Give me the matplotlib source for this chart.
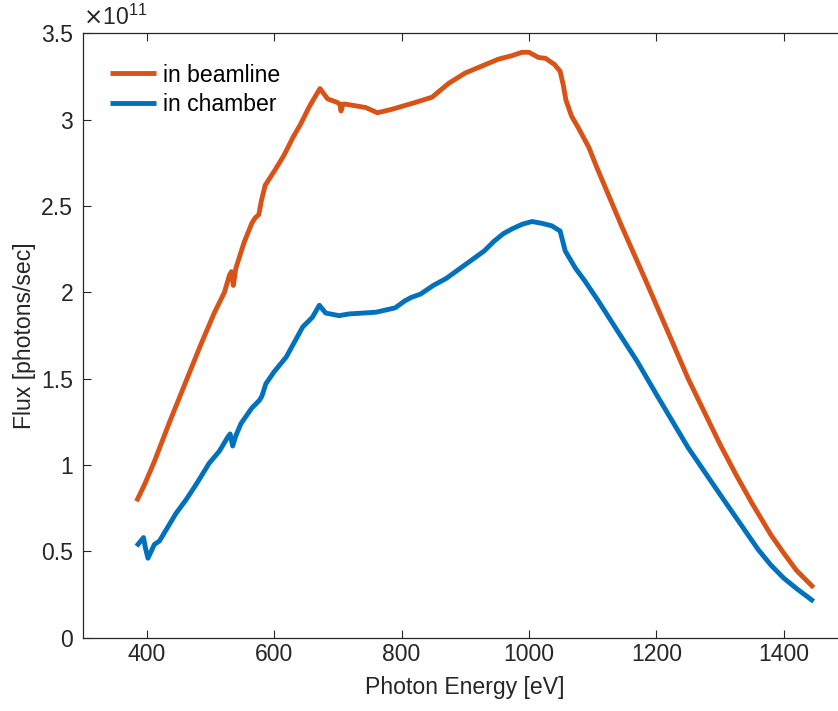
import matplotlib
matplotlib.use("Agg")
import matplotlib.pyplot as plt

plt.rcParams['font.family'] = ['Liberation Sans', 'DejaVu Sans']

# Photon energy [eV] and flux [x1e11 photons/sec]
beam_energy = [384, 397, 412, 436, 459, 483, 506, 522, 530, 533, 536, 540, 553, 565,
               570, 576, 580, 586, 600, 615, 630, 641, 656, 672, 684, 699, 703, 705,
               708, 712, 744, 762, 785, 822, 848, 874, 900, 926, 952, 973, 989, 1000,
               1015, 1026, 1040, 1049, 1054, 1058, 1067, 1078, 1094, 1107, 1146, 1182,
               1216, 1250, 1300, 1325, 1350, 1380, 1400, 1420, 1447]
beam_flux = [0.79, 0.89, 1.02, 1.25, 1.46, 1.68, 1.88, 2.00, 2.10, 2.12, 2.04, 2.14, 2.29, 2.40,
             2.43, 2.45, 2.53, 2.62, 2.70, 2.79, 2.90, 2.97, 3.08, 3.18, 3.12, 3.10, 3.09, 3.05,
             3.09, 3.09, 3.07, 3.04, 3.06, 3.10, 3.13, 3.21, 3.27, 3.31, 3.35, 3.37, 3.39, 3.39,
             3.36, 3.355, 3.32, 3.28, 3.20, 3.115, 3.02, 2.95, 2.84, 2.72, 2.38, 2.08,
             1.79, 1.50, 1.12, 0.945, 0.78, 0.595, 0.49, 0.39, 0.29]

chamber_energy = [384, 395, 398, 402, 407, 412, 420, 446, 462, 478, 498, 514, 527, 531, 535,
                  540, 548, 565, 577, 581, 587, 600, 619, 645, 660, 671, 681, 702, 718, 740,
                  760, 790, 805, 815, 830, 850, 870, 900, 930, 945, 960, 975, 990, 1005, 1020,
                  1036, 1049, 1057, 1073, 1088, 1109, 1135, 1170, 1200, 1250, 1300, 1330,
                  1360, 1380, 1400, 1420, 1447]
chamber_flux = [0.53, 0.58, 0.52, 0.46, 0.50, 0.54, 0.56, 0.72, 0.80, 0.89, 1.01, 1.08, 1.16, 1.18, 1.11,
                1.17, 1.24, 1.33, 1.375, 1.40, 1.47, 1.54, 1.625, 1.80, 1.855, 1.925, 1.88, 1.865, 1.875, 1.88,
                1.885, 1.91, 1.95, 1.97, 1.99, 2.04, 2.08, 2.16, 2.24, 2.295, 2.34, 2.37, 2.395, 2.41, 2.40,
                2.385, 2.355, 2.24, 2.14, 2.065, 1.95, 1.80, 1.60, 1.41, 1.10, 0.83, 0.67,
                0.51, 0.42, 0.345, 0.285, 0.21]

labels = ["in beamline", "in chamber"]
xticks = [400, 600, 800, 1000, 1200, 1400]
yticks = [0, 0.5, 1, 1.5, 2, 2.5, 3, 3.5]
ytick_labels = ["0", "0.5", "1", "1.5", "2", "2.5", "3", "3.5"]

orange = "#D95319"
blue = "#0072BD"
dark = "#262626"
fs = 16.6

fig = plt.figure(figsize=(8.38, 7.11), dpi=100)
ax = fig.add_axes([83 / 838, (711 - 637.7) / 711, 764.4 / 838, 604.4 / 711])

ax.plot(beam_energy, beam_flux, color=orange, lw=3.5, label=labels[0],
        solid_joinstyle='round', solid_capstyle='butt')
ax.plot(chamber_energy, chamber_flux, color=blue, lw=3.5, label=labels[1],
        solid_joinstyle='round', solid_capstyle='butt')

ax.set_xlim(300, 1500)
ax.set_ylim(0, 3.5)
ax.set_xticks(xticks)
ax.set_xticklabels([str(t) for t in xticks])
ax.set_yticks(yticks)
ax.set_yticklabels(ytick_labels)

ax.tick_params(direction='in', length=6, width=0.8, colors=dark, labelsize=fs,
               top=True, right=False, pad=7)
ax.tick_params(axis='x', pad=4)
for side in ['left', 'bottom', 'top']:
    ax.spines[side].set_color(dark)
    ax.spines[side].set_linewidth(0.9)
ax.spines['right'].set_visible(False)

ax.set_xlabel("Photon Energy [eV]", fontsize=fs, color=dark, labelpad=7)
ax.set_ylabel("Flux [photons/sec]", fontsize=fs, color=dark, labelpad=4)

ax.text(0.0, 1.005, r"$\times\mathregular{10^{11}}$", transform=ax.transAxes,
        fontsize=fs, color=dark, ha='left', va='bottom')

leg = ax.legend(loc='upper left', bbox_to_anchor=(0.0353, 0.95), frameon=False,
                fontsize=fs, handlelength=2.0, handletextpad=0.3, labelspacing=0.3,
                borderaxespad=0, borderpad=0)
for t in leg.get_texts():
    t.set_color("black")

fig.savefig("out.png", dpi=100)
